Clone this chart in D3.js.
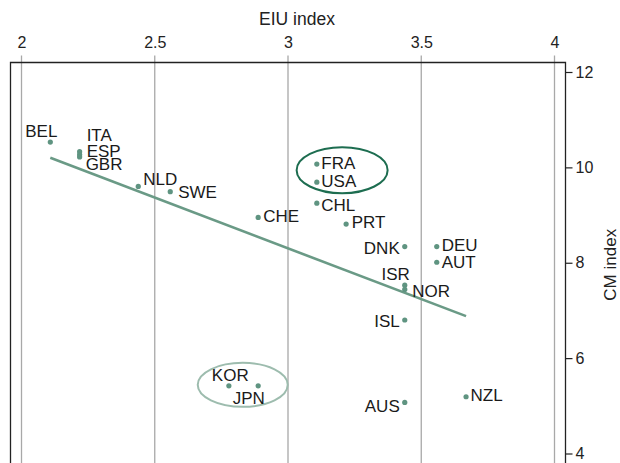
<!DOCTYPE html>
<html>
<head>
<meta charset="utf-8">
<script src="https://cdn.jsdelivr.net/npm/d3@7"></script>
<style>
  body { margin: 0; background: #fff; }
  svg { display: block; font-family: "Liberation Sans", Arial, sans-serif; }
</style>
</head>
<body>
<svg id="chart" width="620" height="463"></svg>
<script>
"use strict";

// Countries, EIU index (x) and CM index (y)
const countries = ["BEL", "ITA", "ESP", "GBR", "NLD", "SWE", "CHE", "FRA", "USA", "CHL", "PRT",
                   "DNK", "DEU", "AUT", "ISR", "NOR", "ISL", "KOR", "JPN", "AUS", "NZL"];
const eiuValues = [2.11, 2.22, 2.22, 2.22, 2.44, 2.56, 2.89, 3.11, 3.11, 3.11, 3.22,
                   3.44, 3.56, 3.56, 3.44, 3.44, 3.44, 2.78, 2.89, 3.44, 3.67];
const cmValues  = [10.53, 10.33, 10.27, 10.22, 9.60, 9.49, 8.95, 10.07, 9.69, 9.25, 8.81,
                   8.34, 8.34, 8.01, 7.53, 7.44, 6.80, 5.42, 5.42, 5.07, 5.19];

// Fitted line end points
const fitX = [2.11, 3.67];
const fitY = [10.20, 6.88];

const xTicks = [2, 2.5, 3, 3.5, 4];
const yTicks = [4, 6, 8, 10, 12];

// label placement: [anchor, dx, dy]
const labelPos = {
  BEL: ["middle", -9, -5], ITA: ["start", 7, -11], ESP: ["start", 7, 2.5], GBR: ["start", 6, 13.5],
  NLD: ["start", 5, -1.5], SWE: ["start", 8, 6.5], CHE: ["start", 5, 4.5], FRA: ["start", 4.5, 5],
  USA: ["start", 4.5, 4.5], CHL: ["start", 4.5, 7.5], PRT: ["start", 5.5, 4], DNK: ["end", -5, 7],
  DEU: ["start", 5, 4.5], AUT: ["start", 5, 6], ISR: ["end", 5, -5], NOR: ["start", 7.5, 7.5],
  ISL: ["end", -5, 7.5], KOR: ["start", -17, -4.5], JPN: ["start", -25.5, 18], AUS: ["end", -5, 10],
  NZL: ["start", 4.5, 4.5]
};

const svg = d3.select("#chart");
const plotLeft = 10.5, plotRight = 565.5, plotTop = 62.5, plotBottom = 470;

const x = d3.scaleLinear().domain([2, 4]).range([21, 554]);
const y = d3.scaleLinear().domain([4, 12]).range([453.5, 72]);

// Vertical grid lines
svg.append("g").selectAll("line")
    .data(xTicks)
  .enter().append("line")
    .attr("x1", d => x(d) + 0.5).attr("x2", d => x(d) + 0.5)
    .attr("y1", plotTop - 7).attr("y2", plotBottom)
    .style("stroke", "#a8a8a8")
    .style("stroke-width", 1.3);

// Frame
svg.append("path")
    .attr("d", `M${plotLeft},${plotBottom}V${plotTop}H${plotRight}V${plotBottom}`)
    .style("fill", "none")
    .style("stroke", "#222")
    .style("stroke-width", 1.3);

// Top axis
const xAxis = d3.axisTop(x).tickValues(xTicks).tickSize(0).tickPadding(0)
    .tickFormat(d3.format("~g"));
const gx = svg.append("g").attr("transform", `translate(0.5,${plotTop - 15})`).call(xAxis);
gx.select(".domain").remove();
gx.selectAll("text").style("font-size", "16px").style("fill", "#222")
    .attr("dy", "0").attr("y", 0);

svg.append("text")
    .attr("x", 297).attr("y", 25)
    .attr("text-anchor", "middle")
    .style("font-size", "17.5px").style("fill", "#222")
    .text("EIU index");

// Right axis
const yAxis = d3.axisRight(y).tickValues(yTicks).tickSize(7).tickPadding(3);
const gy = svg.append("g").attr("transform", `translate(${plotRight},0)`).call(yAxis);
gy.select(".domain").remove();
gy.selectAll("line").style("stroke", "#222").style("stroke-width", 1.2);
gy.selectAll("text").style("font-size", "16px").style("fill", "#222")
    .text(d => d);

svg.append("text")
    .attr("transform", `translate(616,${y(8) + 2}) rotate(-90)`)
    .attr("text-anchor", "middle")
    .style("font-size", "17px").style("fill", "#222")
    .text("CM index");

// Fitted line
svg.append("line")
    .attr("x1", x(fitX[0])).attr("y1", y(fitY[0]))
    .attr("x2", x(fitX[1])).attr("y2", y(fitY[1]))
    .style("stroke", "#6a9a86")
    .style("stroke-width", 2.6);

// Highlight ellipses
svg.append("ellipse")
    .attr("cx", x(3.205)).attr("cy", y(9.94))
    .attr("rx", 45.5).attr("ry", 23)
    .style("fill", "none").style("stroke", "#1d6d50").style("stroke-width", 2);
svg.append("ellipse")
    .attr("cx", x(2.832)).attr("cy", y(5.44))
    .attr("rx", 45).attr("ry", 22)
    .style("fill", "none").style("stroke", "#9dbcae").style("stroke-width", 2);

const data = countries.map((c, i) => ({country: c, eiu: eiuValues[i], cm: cmValues[i]}));

// Dots
svg.append("g").selectAll("circle")
    .data(data)
  .enter().append("circle")
    .attr("cx", d => x(d.eiu))
    .attr("cy", d => y(d.cm))
    .attr("r", 2.6)
    .style("fill", "#5f9481");

// Labels
svg.append("g").selectAll("text")
    .data(data)
  .enter().append("text")
    .attr("x", d => x(d.eiu) + labelPos[d.country][1])
    .attr("y", d => y(d.cm) + labelPos[d.country][2])
    .attr("text-anchor", d => labelPos[d.country][0])
    .style("font-size", "17px")
    .style("fill", "#1a1a1a")
    .text(d => d.country);
</script>
</body>
</html>
